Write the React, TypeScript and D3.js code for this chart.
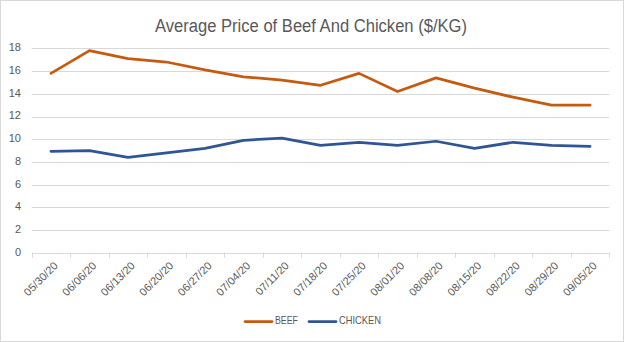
import React from "react";
import * as d3 from "d3";

const dates = ["05/30/20","06/06/20","06/13/20","06/20/20","06/27/20","07/04/20","07/11/20","07/18/20","07/25/20","08/01/20","08/08/20","08/15/20","08/22/20","08/29/20","09/05/20"];
const beef = [15.8,17.8,17.1,16.8,16.1,15.5,15.2,14.75,15.8,14.2,15.4,14.5,13.7,13.0,13.0];
const chicken = [8.93,9.0,8.4,8.8,9.2,9.9,10.1,9.46,9.72,9.45,9.82,9.2,9.73,9.45,9.36];
const yTicks = [0,2,4,6,8,10,12,14,16,18];
const seriesNames = ["BEEF","CHICKEN"];
const colors = ["#C55A11","#2F5597"];

const W = 624, H = 342;
const left = 31.7, right = 609.3, top = 48.4, bottom = 252.7;
const font = "'Liberation Sans', Arial, sans-serif";

export default function App() {
  const x = d3.scaleBand<string>().domain(dates).range([left, right]);
  const y = d3.scaleLinear().domain([0, 18]).range([bottom, top]);
  const line = d3.line<number>().x((_, i) => (x(dates[i]) as number) + x.bandwidth() / 2).y(d => y(d));
  const series = [beef, chicken];
  const legendX = [245, 309];
  const legendLen = [23, 42];
  return (
    <svg width={W} height={H} style={{ position: "absolute", left: 0, top: 0, background: "#fff" }} fontFamily={font}>
      <rect x={0.5} y={0.5} width={W - 1} height={H - 1} fill="#fff" stroke="#d9d9d9" />
      <text x={311} y={27} textAnchor="middle" dominantBaseline="middle" fontSize={18} fill="#595959" textLength={312} lengthAdjust="spacingAndGlyphs">Average Price of Beef And Chicken ($/KG)</text>
      {yTicks.map(t => (
        <g key={t}>
          {t > 0 && <line x1={left} x2={right} y1={Math.round(y(t)) + 0.5} y2={Math.round(y(t)) + 0.5} stroke="#d9d9d9" />}
          <text x={21} y={y(t)} textAnchor="end" dominantBaseline="middle" fontSize={11} fill="#595959">{t}</text>
        </g>
      ))}
      <line x1={left} x2={right} y1={Math.round(bottom) + 0.5} y2={Math.round(bottom) + 0.5} stroke="#d9d9d9" />
      {[...dates.map(d => x(d) as number), right].map((px, i) => (
        <line key={i} x1={Math.round(px) + 0.5} x2={Math.round(px) + 0.5} y1={bottom} y2={bottom + 5} stroke="#d9d9d9" />
      ))}
      {dates.map(d => {
        const cx = (x(d) as number) + x.bandwidth() / 2 + 2;
        const cy = bottom + 8;
        return (
          <text key={d} x={cx} y={cy} textAnchor="end" dominantBaseline="hanging" fontSize={11} fill="#595959" transform={`rotate(-45 ${cx} ${cy})`}>{d}</text>
        );
      })}
      {series.map((s, i) => (
        <path key={i} d={line(s) as string} fill="none" stroke={colors[i]} strokeWidth={2.75} strokeLinejoin="round" strokeLinecap="round" />
      ))}
      {seriesNames.map((n, i) => (
        <g key={n}>
          <line x1={legendX[i]} x2={legendX[i] + 27} y1={321.5} y2={321.5} stroke={colors[i]} strokeWidth={2.75} strokeLinecap="round" />
          <text x={legendX[i] + 30} y={321.5} dominantBaseline="middle" fontSize={11} fill="#595959" textLength={legendLen[i]} lengthAdjust="spacingAndGlyphs">{n}</text>
        </g>
      ))}
    </svg>
  );
}
